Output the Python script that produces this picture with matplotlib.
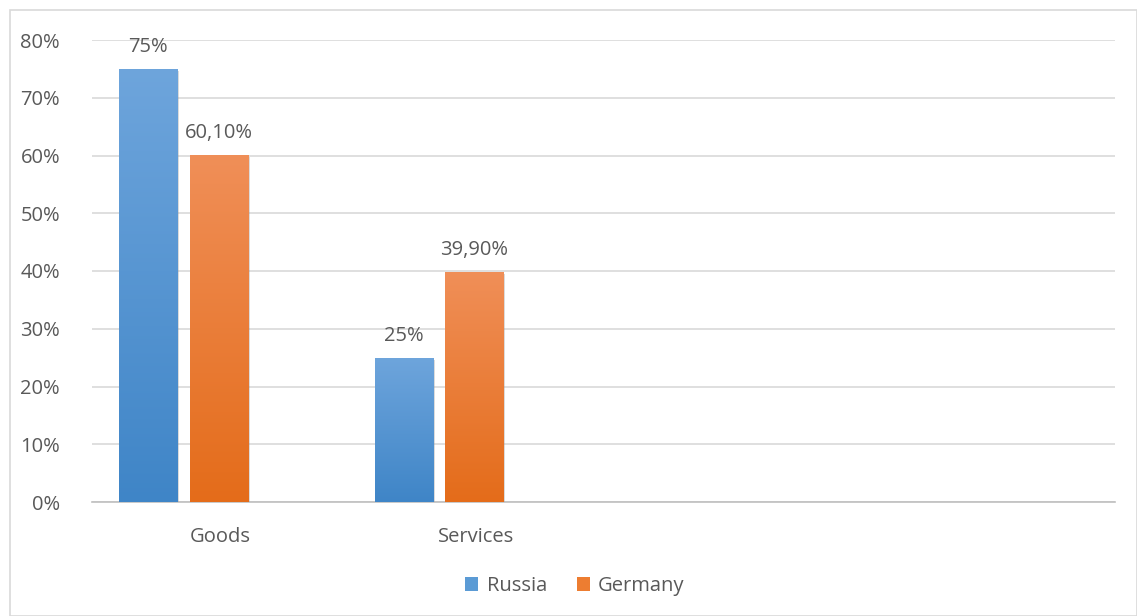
import matplotlib
matplotlib.use("Agg")
import matplotlib.pyplot as plt
import numpy as np
from matplotlib.patches import Rectangle
from matplotlib.colors import LinearSegmentedColormap
import matplotlib.patheffects as pe

categories = ["Goods", "Services", "", ""]
russia = [75.0, 25.0]
germany = [60.1, 39.9]
russia_labels = ["75%", "25%"]
germany_labels = ["60,10%", "39,90%"]
yticks = [0, 10, 20, 30, 40, 50, 60, 70, 80]

plt.rcParams['font.family'] = ['Open Sans', 'DejaVu Sans']
txt = '#595959'
fs = 14.5

fig = plt.figure(figsize=(11.37, 6.16), dpi=100)
fig.patches.append(Rectangle((10/1137, 0), 1 - 10/1137 - 0.5/1137, 1 - 10/616, transform=fig.transFigure,
                             fill=False, edgecolor='#d9d9d9', linewidth=1.2))
ax = fig.add_axes([92/1137, 1 - 502/616, (1115 - 92)/1137, (502 - 40)/616])

x = np.arange(len(categories))
w = 0.227
off_r = -0.28
off_g = -0.005

cm_blue = LinearSegmentedColormap.from_list('b', ['#3f85c7', '#6ea5dc'])
cm_or = LinearSegmentedColormap.from_list('o', ['#e46c1a', '#f08f58'])

def gradient_bars(xs, vals, cmap, label, color):
    bars = ax.bar(xs, vals, width=w, color=color, label=label, zorder=3,
                  path_effects=[pe.SimplePatchShadow(offset=(1.5, -1.5), shadow_rgbFace='#999999', alpha=0.35), pe.Normal()])
    for b in bars:
        grad = np.linspace(0, 1, 256).reshape(-1, 1)
        im = ax.imshow(grad, cmap=cmap, origin='lower', aspect='auto',
                       extent=[b.get_x(), b.get_x() + b.get_width(), 0, b.get_height()], zorder=4)
        im.set_clip_path(b)
    return bars

br = gradient_bars(x[:2] + off_r, russia, cm_blue, 'Russia', '#5b9bd5')
bg = gradient_bars(x[:2] + off_g, germany, cm_or, 'Germany', '#ed7d31')

for xi, v, l in zip(x[:2] + off_r, russia, russia_labels):
    ax.text(xi, v + 2.0, l, ha='center', va='bottom', fontsize=fs, color=txt, zorder=5)
for xi, v, l in zip(x[:2] + off_g, germany, germany_labels):
    ax.text(xi, v + 2.0, l, ha='center', va='bottom', fontsize=fs, color=txt, zorder=5)

ax.set_xlim(-0.5, len(categories) - 0.5)
ax.set_ylim(0, 80)
ax.set_yticks(yticks)
ax.set_yticklabels([f"{t}%" for t in yticks])
ax.set_xticks(x)
ax.set_xticklabels(categories)
ax.grid(axis='y', color='#d9d9d9', linewidth=1.2, zorder=0)
ax.set_axisbelow(True)
for s in ['top', 'right', 'left']:
    ax.spines[s].set_visible(False)
ax.spines['bottom'].set_color('#bfbfbf')
ax.spines['bottom'].set_linewidth(1.2)
ax.tick_params(axis='both', length=0, labelsize=fs, labelcolor=txt)
ax.tick_params(axis='y', pad=23)
ax.tick_params(axis='x', pad=18)

leg = fig.legend(handles=[br, bg], labels=['Russia', 'Germany'], loc='center', bbox_to_anchor=(575/1137, 1 - 586/616),
                 ncol=2, frameon=False, fontsize=fs, handlelength=0.65, handleheight=0.65, handletextpad=0.4,
                 columnspacing=1.5, labelcolor=txt)
for h in leg.legend_handles:
    h.set_path_effects([])

fig.savefig('out.png', dpi=100)
